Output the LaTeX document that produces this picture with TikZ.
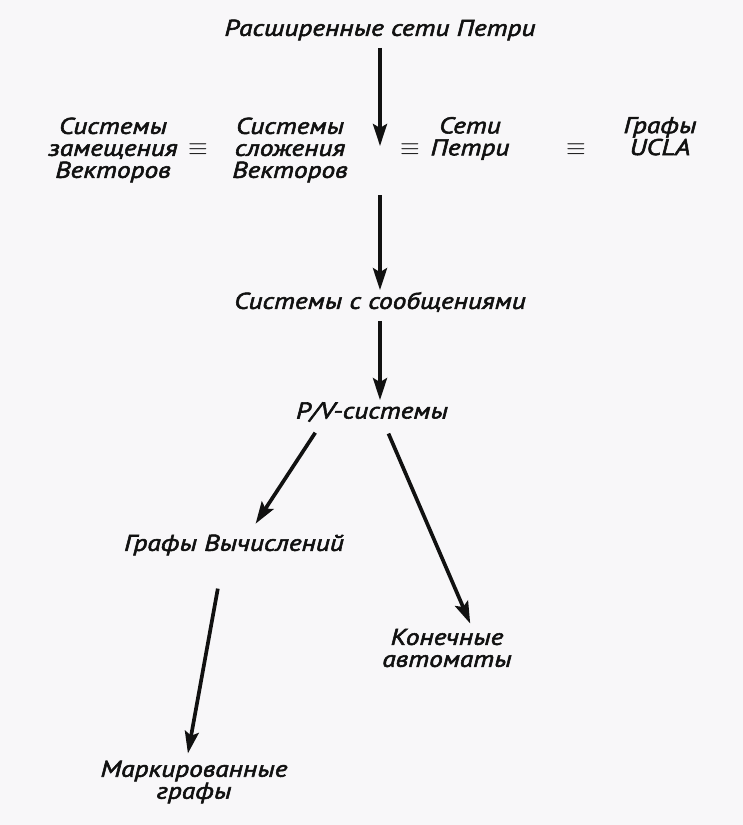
\documentclass[tikz,border=0pt]{standalone}
\usepackage{fontspec}
\setmainfont{PT Sans}[FakeBold=2.5, FakeStretch=1.2]
\usepackage{tikz}
\usetikzlibrary{arrows.meta,positioning}
\definecolor{paper}{HTML}{F8F7F9}
\definecolor{ink}{HTML}{111111}

\begin{document}
\begin{tikzpicture}[x=0.2mm, y=-0.2mm, >={Stealth[length=4.4mm,width=2.8mm,inset=0.8mm]},
  lbl/.style={font=\fontsize{13}{12.5}\selectfont\itshape, text=ink, align=center, inner sep=1pt},
  eqv/.style={font=\fontsize{14}{14}\selectfont, text=ink, inner sep=0pt},
  arr/.style={->, line width=2.1pt, draw=ink}]
\fill[paper] (0,0) rectangle (743,825);
\useasboundingbox (0,0) rectangle (743,825);
% top
\node[lbl] (ext) at (380,30) {Расширенные сети Петри};
% row of equivalent models
\node[lbl] (vrs) at (113,150) {Системы\\замещения\\Векторов};
\node[eqv] (e1)  at (198,150) {$\equiv$};
\node[lbl] (vas) at (290,150) {Системы\\сложения\\Векторов};
\coordinate (rowtop) at (380,146);
\coordinate (rowbot) at (380,195);
\node[eqv] (e2)  at (410,150) {$\equiv$};
\node[lbl, anchor=north] (pn) at (470,115) {Сети\\Петри};
\node[eqv] (e3)  at (576,150) {$\equiv$};
\node[lbl, anchor=north] (ucla) at (660,115) {Графы\\UCLA};
% chain down
\node[lbl] (msg) at (380,302) {Системы с сообщениями};
\node[lbl] (pv)  at (372,412) {P/V-системы};
\node[lbl] (cg)  at (234,545) {Графы Вычислений};
\node[lbl] (fa)  at (447,648) {Конечные\\автоматы};
\node[lbl] (mg)  at (194,782) {Маркированные\\графы};
% arrows
\draw[arr, shorten <=3pt] (ext) -- (rowtop);
\draw[arr] (rowbot) -- (msg);
\draw[arr, shorten <=4pt] (msg) -- (msg |- pv.north);
\draw[arr, shorten <=6pt, shorten >=6pt] ([xshift=-29pt]pv.south) -- ([xshift=9pt]cg.north);
\draw[arr, shorten <=6pt, shorten >=2pt] ([xshift=7pt]pv.south) -- ([xshift=14pt]fa.north);
\draw[arr, shorten <=18pt, shorten >=3pt] ([xshift=-6pt]cg.south) -- ([xshift=-4pt]mg.north);
\end{tikzpicture}
\end{document}
